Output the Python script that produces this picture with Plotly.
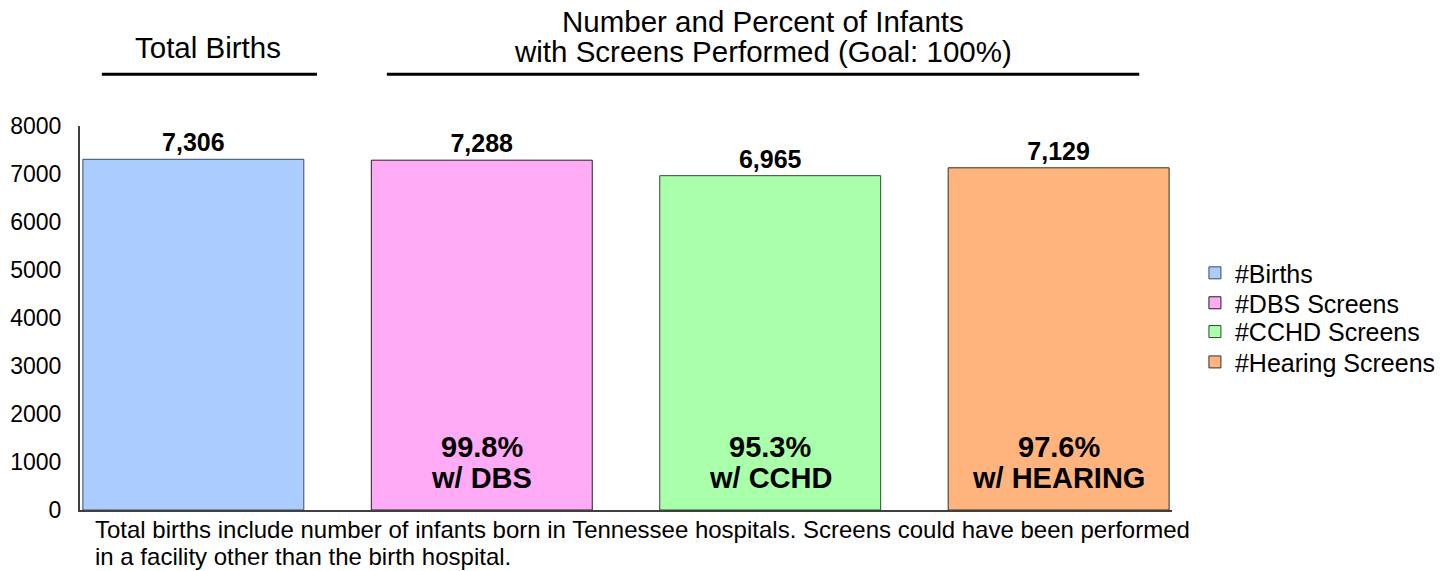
import plotly.graph_objects as go

# ---- data ----
series_names = ["#Births", "#DBS Screens", "#CCHD Screens", "#Hearing Screens"]
counts = [7306, 7288, 6965, 7129]
pct_labels = ["", "99.8%", "95.3%", "97.6%"]
screen_labels = ["", "w/ DBS", "w/ CCHD", "w/ HEARING"]
y_ticks = [0, 1000, 2000, 3000, 4000, 5000, 6000, 7000, 8000]
footnote_lines = [
    "Total births include number of infants born in Tennessee hospitals. Screens could have been performed",
    "in a facility other than the birth hospital.",
]

fill_colors = ["#AACCFF", "#FFAAF4", "#AAFFAA", "#FFB47E"]
edge_colors = ["#3B4A63", "#202020", "#2E4A2E", "#303030"]

FONT = "Liberation Sans, Arial, sans-serif"
legend_ids = ["legend", "legend2", "legend3", "legend4"]
legend_y = [0.617, 0.539, 0.464, 0.385]

fig = go.Figure()
for i, name in enumerate(series_names):
    fig.add_trace(go.Bar(
        x=[i], y=[counts[i]], name=name, width=0.766,
        marker=dict(color=fill_colors[i], line=dict(color=edge_colors[i], width=1)),
        text=[counts[i]], texttemplate="%{y:,}", textposition="outside",
        textfont=dict(family=FONT, size=25, color="black", weight="bold"),
        constraintext="none", cliponaxis=False, legend=legend_ids[i],
    ))

annotations = []
for i in range(len(series_names)):
    if pct_labels[i]:
        annotations.append(dict(x=i, y=0.165, xref="x", yref="paper", text="<b>%s</b>" % pct_labels[i],
                                showarrow=False, font=dict(family=FONT, size=29, color="black"),
                                xanchor="center", yanchor="middle"))
        annotations.append(dict(x=i, y=0.084, xref="x", yref="paper", text="<b>%s</b>" % screen_labels[i],
                                showarrow=False, font=dict(family=FONT, size=29, color="black"),
                                xanchor="center", yanchor="middle"))

# group headers
annotations += [
    dict(x=0.1176, y=1.204, xref="paper", yref="paper", text="Total Births", showarrow=False,
         font=dict(family=FONT, size=29.5, color="black"), xanchor="center", yanchor="middle"),
    dict(x=0.6254, y=1.271, xref="paper", yref="paper", text="Number and Percent of Infants", showarrow=False,
         font=dict(family=FONT, size=29.5, color="black"), xanchor="center", yanchor="middle"),
    dict(x=0.6254, y=1.193, xref="paper", yref="paper", text="with Screens Performed (Goal: 100%)", showarrow=False,
         font=dict(family=FONT, size=29.5, color="black"), xanchor="center", yanchor="middle"),
]
foot_y = [-0.052, -0.12]
for line, fy in zip(footnote_lines, foot_y):
    annotations.append(dict(x=0.012, y=fy, xref="paper", yref="paper", text=line,
                            showarrow=False, align="left", font=dict(family=FONT, size=24, color="black"),
                            xanchor="left", yanchor="middle"))

shapes = [
    dict(type="line", xref="paper", yref="paper", x0=0.020, x1=0.217, y0=1.135, y1=1.135,
         line=dict(color="black", width=3)),
    dict(type="line", xref="paper", yref="paper", x0=0.281, x1=0.970, y0=1.135, y1=1.135,
         line=dict(color="black", width=3)),
]

legend_common = dict(x=1.021, xanchor="left", yanchor="middle",
                     font=dict(family=FONT, size=25, color="black"),
                     bgcolor="rgba(0,0,0,0)")

layout_legends = {}
for lid, ly in zip(legend_ids, legend_y):
    layout_legends[lid] = dict(legend_common, y=ly)

fig.update_layout(
    width=1445, height=563,
    margin=dict(l=72, r=276, t=118, b=61),
    paper_bgcolor="white", plot_bgcolor="white",
    font=dict(family=FONT, color="black"),
    barmode="overlay",
    showlegend=True,
    xaxis=dict(range=[-0.393, 3.393], showticklabels=False, ticks="", showgrid=False,
               zeroline=False, showline=True, linecolor="#404040", linewidth=2,
               fixedrange=True, automargin=False),
    yaxis=dict(range=[0, 8000], tickvals=y_ticks, showgrid=False, zeroline=False,
               showline=True, linecolor="#404040", linewidth=2, ticks="", automargin=False,
               ticklabelstandoff=12, tickfont=dict(family=FONT, size=23, color="black")),
    annotations=annotations,
    shapes=shapes,
    **layout_legends,
)

fig.write_html("out.html")
